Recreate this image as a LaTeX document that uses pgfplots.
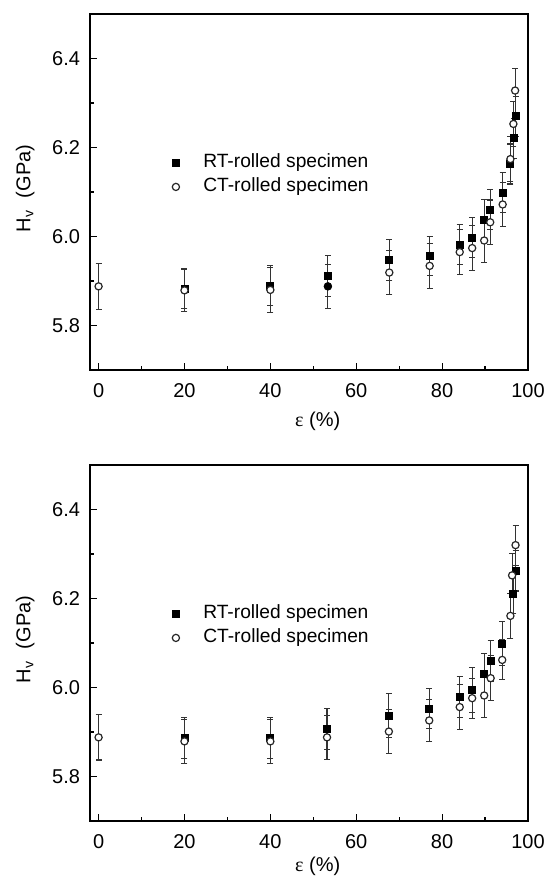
\documentclass[border=0pt]{standalone}
\usepackage{pgfplots}
\usepackage{pgfplotstable}
\pgfplotsset{compat=1.18}
\usepackage{fontspec}
\setmainfont{Liberation Sans}
\newfontfamily\epsfont{Liberation Serif}

% x = strain (%), y = Hv (GPa), e = error
\pgfplotstableread{
x    y     e
20   5.883 0.045
40   5.889 0.045
53.4 5.912 0.046
67.7 5.948 0.046
77.1 5.957 0.044
84.1 5.982 0.045
87.0 5.997 0.045
89.8 6.038 0.045
91.2 6.060 0.045
94.1 6.099 0.045
95.9 6.163 0.045
96.7 6.221 0.045
97.1 6.270 0.045
}\rtA
\pgfplotstableread{
x    y     e
0    5.888 0.052
20   5.879 0.048
40   5.880 0.050
53.4 5.888 0.050
67.7 5.919 0.050
77.1 5.934 0.050
84.1 5.965 0.050
87.0 5.974 0.050
89.8 5.991 0.050
91.2 6.032 0.050
94.1 6.072 0.050
95.9 6.174 0.050
96.6 6.253 0.050
97.0 6.328 0.049
}\ctA
\pgfplotstableread{
x    y     e
20   5.886 0.046
40   5.887 0.046
53.2 5.906 0.046
67.6 5.937 0.049
77.0 5.953 0.045
84.1 5.978 0.046
87.0 5.994 0.050
89.8 6.031 0.046
91.3 6.059 0.046
94.0 6.099 0.050
96.6 6.211 0.045
97.1 6.262 0.045
}\rtB
\pgfplotstableread{
x    y     e
0    5.888 0.051
20   5.879 0.050
40   5.879 0.050
53.2 5.888 0.050
67.6 5.901 0.050
77.0 5.926 0.047
84.1 5.956 0.050
87.0 5.976 0.045
89.8 5.982 0.050
91.3 6.021 0.050
94.0 6.062 0.045
95.9 6.161 0.050
96.3 6.252 0.050
97.1 6.320 0.045
}\ctB

\newcommand\lblfont{\fontsize{10}{12}\selectfont}
\newcommand\legfont{\fontsize{9.6}{11.5}\selectfont}

\pgfplotsset{
  hv/.style={
    width=219pt, height=178pt, scale only axis,
    xmin=-2, xmax=100, ymin=5.7, ymax=6.5,
    xtick={0,20,...,100}, ytick={5.8,6.0,6.2,6.4},
    minor x tick num=1, minor y tick num=1,
    tick align=inside, xtick pos=bottom, ytick pos=left,
    major tick length=3.5pt, minor tick length=2.2pt,
    axis line style={line width=0.9pt},
    every tick/.style={black, line width=0.6pt},
    /pgf/number format/assume math mode=true,
    xticklabel style={yshift=-3pt},
    yticklabel style={xshift=-1.5pt, /pgf/number format/.cd, fixed, fixed zerofill, precision=1},
    tick label style={font=\lblfont},
    xlabel={{\epsfont ε} (\%)}, ylabel={H\textsubscript{v}\hspace{3pt} (GPa)},
    label style={font=\lblfont},
    every axis y label/.style={at={(axis description cs:-0.148,0.51)}, rotate=90, anchor=center},
    legend cell align=left,
    legend style={draw=none, fill=none, inner sep=0pt, font=\legfont,
      column sep=11.9pt, row sep=3pt,
      nodes={inner sep=0pt, text height=7pt, text depth=2pt},
      at={(axis description cs:0.187,0.548)}, anchor=west},
  },
  rt/.style={only marks, mark=square*, mark size=1.75pt, black,
    error bars/.cd, y dir=both, y explicit,
    error bar style={line width=0.55pt, black!80},
    error mark options={rotate=90, mark size=1.5pt, line width=0.55pt, black!80}},
  ct/.style={only marks, mark=*, mark size=1.8pt, black!85,
    mark options={fill=white, line width=0.6pt},
    error bars/.cd, y dir=both, y explicit,
    error bar style={line width=0.55pt, black!80},
    error mark options={rotate=90, mark size=1.5pt, line width=0.55pt, black!80}},
}

\begin{document}
\begin{tikzpicture}
\begin{axis}[hv, at={(0,0)}, anchor=south west,
  every axis x label/.style={at={(axis description cs:0.52,-0.143)}, anchor=center}]
  \addplot[rt] table[x=x, y=y, y error=e] {\rtA};
  \addlegendentry{RT-rolled specimen}
  \addplot[ct] table[x=x, y=y, y error=e] {\ctA};
  \addlegendentry{CT-rolled specimen}
  \addplot[only marks, mark=*, mark size=1.8pt, black, forget plot] coordinates {(53.4,5.888)};
  \node[font=\lblfont] at (axis description cs:-0.148,-0.14) {(a)};
\end{axis}
\begin{axis}[hv, at={(0,-225.5pt)}, anchor=south west,
  every axis x label/.style={at={(axis description cs:0.52,-0.126)}, anchor=center}]
  \addplot[rt] table[x=x, y=y, y error=e] {\rtB};
  \addlegendentry{RT-rolled specimen}
  \addplot[ct] table[x=x, y=y, y error=e] {\ctB};
  \addlegendentry{CT-rolled specimen}
  \node[font=\lblfont] at (axis description cs:-0.148,-0.126) {(b)};
\end{axis}
\pgfresetboundingbox
\useasboundingbox (-45pt,-255pt) rectangle (228pt,185pt);
\end{tikzpicture}
\end{document}
